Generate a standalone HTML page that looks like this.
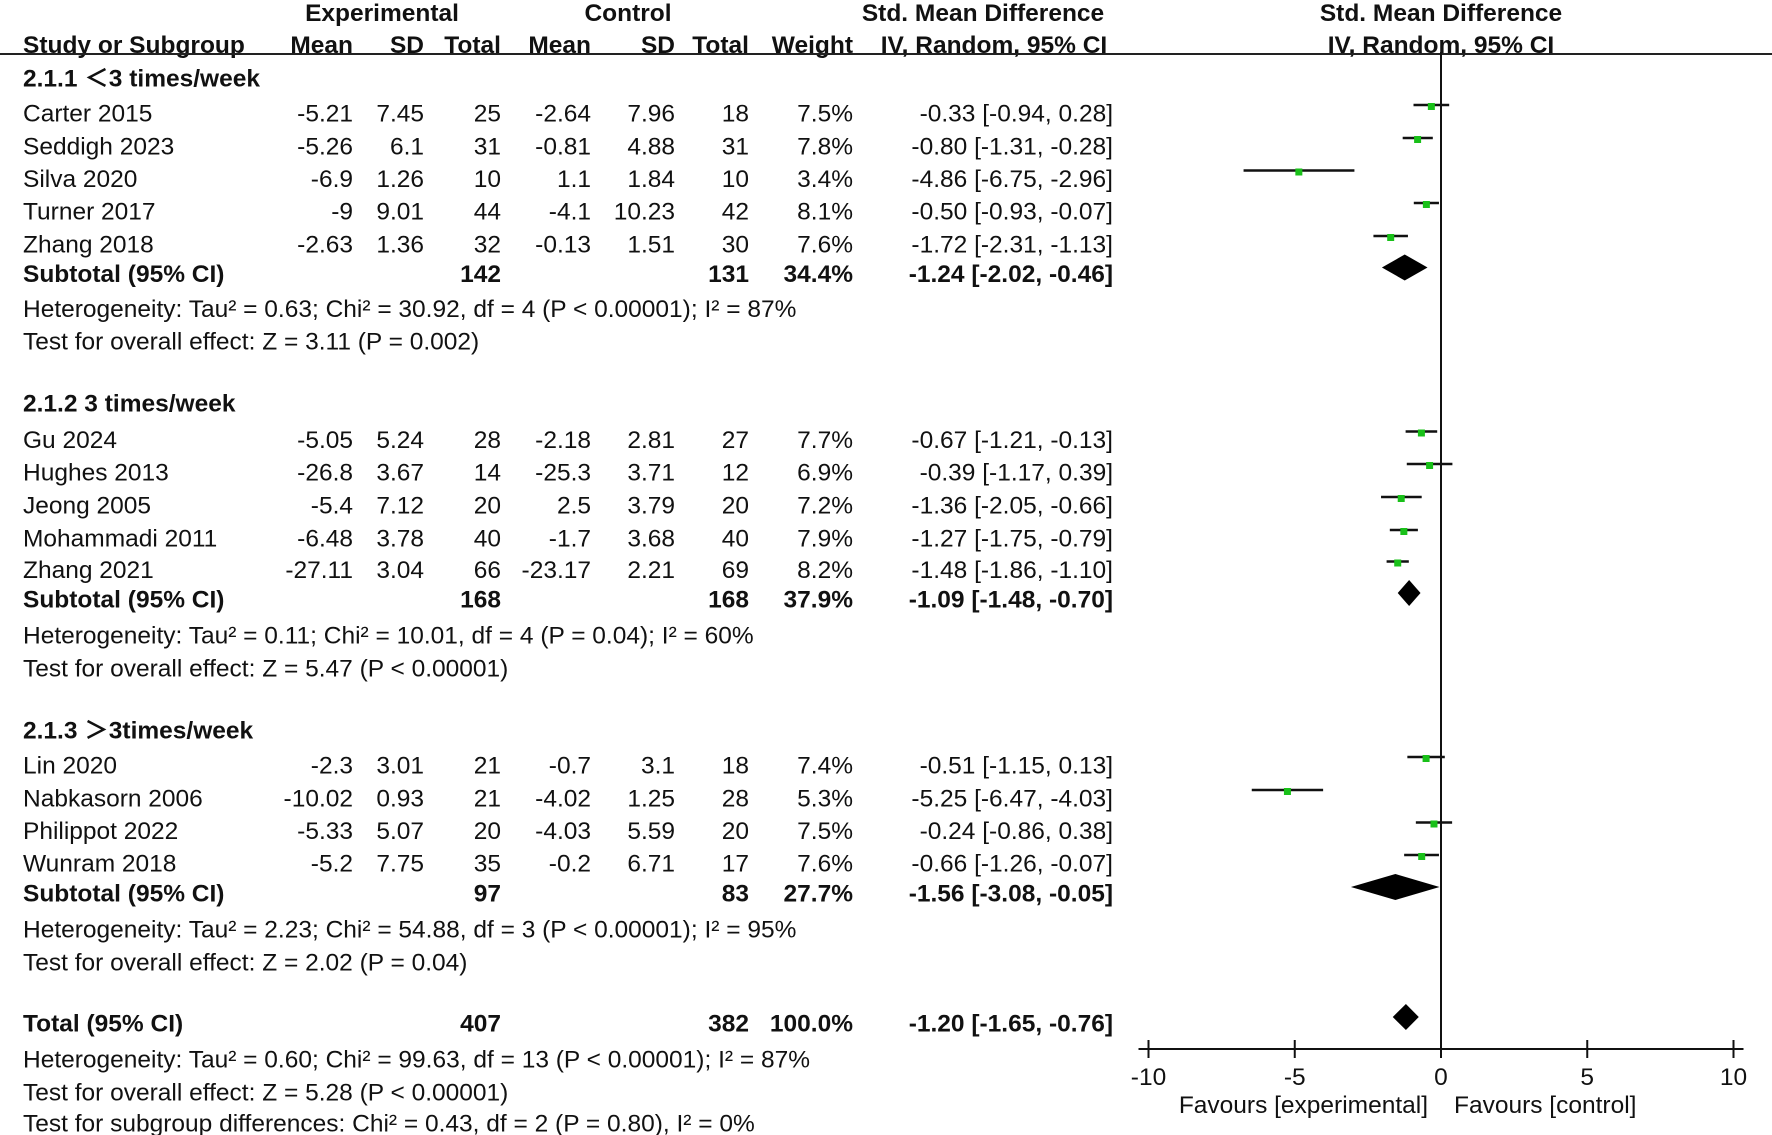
<!DOCTYPE html>
<html><head><meta charset="utf-8"><style>
html,body{margin:0;padding:0;background:#fff}
svg{display:block}
text{font-family:"Liberation Sans","Noto Sans CJK SC",Arial,sans-serif;font-size:24.5px;fill:#111}
.b{font-weight:bold}
</style></head><body>
<svg id="plot" width="1772" height="1135" xmlns="http://www.w3.org/2000/svg">
<g id="txt"></g><g id="marks"></g>
</svg>
<script>
// ---- data ----
const studies = ["Carter 2015","Seddigh 2023","Silva 2020","Turner 2017","Zhang 2018","Gu 2024","Hughes 2013","Jeong 2005","Mohammadi 2011","Zhang 2021","Lin 2020","Nabkasorn 2006","Philippot 2022","Wunram 2018"];
const studyGroup = [0,0,0,0,0,1,1,1,1,1,2,2,2,2];
const expMean = ["-5.21","-5.26","-6.9","-9","-2.63","-5.05","-26.8","-5.4","-6.48","-27.11","-2.3","-10.02","-5.33","-5.2"];
const expSD = ["7.45","6.1","1.26","9.01","1.36","5.24","3.67","7.12","3.78","3.04","3.01","0.93","5.07","7.75"];
const expN = [25,31,10,44,32,28,14,20,40,66,21,21,20,35];
const ctlMean = ["-2.64","-0.81","1.1","-4.1","-0.13","-2.18","-25.3","2.5","-1.7","-23.17","-0.7","-4.02","-4.03","-0.2"];
const ctlSD = ["7.96","4.88","1.84","10.23","1.51","2.81","3.71","3.79","3.68","2.21","3.1","1.25","5.59","6.71"];
const ctlN = [18,31,10,42,30,27,12,20,40,69,18,28,20,17];
const weights = [7.5,7.8,3.4,8.1,7.6,7.7,6.9,7.2,7.9,8.2,7.4,5.3,7.5,7.6];
const smd = [-0.33,-0.80,-4.86,-0.50,-1.72,-0.67,-0.39,-1.36,-1.27,-1.48,-0.51,-5.25,-0.24,-0.66];
const ciLo = [-0.94,-1.31,-6.75,-0.93,-2.31,-1.21,-1.17,-2.05,-1.75,-1.86,-1.15,-6.47,-0.86,-1.26];
const ciHi = [0.28,-0.28,-2.96,-0.07,-1.13,-0.13,0.39,-0.66,-0.79,-1.10,0.13,-4.03,0.38,-0.07];
const groupNames = ["2.1.1 ＜3 times/week","2.1.2 3 times/week","2.1.3 ＞3times/week"];
const subExpN = [142,168,97];
const subCtlN = [131,168,83];
const subWeight = ["34.4%","37.9%","27.7%"];
const subEst = [-1.24,-1.09,-1.56];
const subLo = [-2.02,-1.48,-3.08];
const subHi = [-0.46,-0.70,-0.05];
const subHet = ["Heterogeneity: Tau² = 0.63; Chi² = 30.92, df = 4 (P < 0.00001); I² = 87%","Heterogeneity: Tau² = 0.11; Chi² = 10.01, df = 4 (P = 0.04); I² = 60%","Heterogeneity: Tau² = 2.23; Chi² = 54.88, df = 3 (P < 0.00001); I² = 95%"];
const subTest = ["Test for overall effect: Z = 3.11 (P = 0.002)","Test for overall effect: Z = 5.47 (P < 0.00001)","Test for overall effect: Z = 2.02 (P = 0.04)"];
const totalEst = [-1.20], totalLo = [-1.65], totalHi = [-0.76];
const xTicks = [-10,-5,0,5,10];

// ---- layout ----
const NS="http://www.w3.org/2000/svg";
const T=document.getElementById('txt'), M=document.getElementById('marks');
const x0=1441, ppu=29.25;
const X=v=>x0+v*ppu;
function tx(s,x,y,anchor,bold,name){const e=document.createElementNS(NS,'text');e.setAttribute('x',x);e.setAttribute('y',y);if(anchor)e.setAttribute('text-anchor',anchor);if(bold)e.setAttribute('class','b');e.textContent=s;


T.appendChild(e);return e;}
function el(tag,attrs,name){const e=document.createElementNS(NS,tag);for(const k in attrs)e.setAttribute(k,attrs[k]);


M.appendChild(e);return e;}
const fmt=v=>v.toFixed(2);
const ci=(a,b,c)=>fmt(a)+" ["+fmt(b)+", "+fmt(c)+"]";
const colR={em:353,es:424,en:501,cm:591,cs:675,cn:749,w:853,ci:1113};
// headers
tx("Experimental",382,21,"middle",true,"header-experimental");
tx("Control",628,21,"middle",true,"header-control");
tx("Std. Mean Difference",983,21,"middle",true,"header-smd");
tx("Std. Mean Difference",1441,21,"middle",true,"header-smd-plot");
tx("Study or Subgroup",23,53,null,true,"header-study");
[["Mean",colR.em],["SD",colR.es],["Total",colR.en],["Mean",colR.cm],["SD",colR.cs],["Total",colR.cn],["Weight",colR.w]].forEach(h=>tx(h[0],h[1],53,"end",true,"header-col"));
tx("IV, Random, 95% CI",994,53,"middle",true,"header-ci");
tx("IV, Random, 95% CI",1441,53,"middle",true,"header-ci-plot");
el('line',{x1:0,y1:54,x2:1772,y2:54,stroke:'#222','stroke-width':2},'header-rule');
// rows y (text center)
const groupY=[78,403,730];
const rowY=[113,146,178.5,211,244,439.5,472,505,538,569.5,765,798,830.5,863];
const subY=[273.5,599,893];
const off=8.5;
groupNames.forEach((g,i)=>tx(g,23,groupY[i]+off,null,true,'group-heading'));
studies.forEach((s,i)=>{const y=rowY[i]+off;
 tx(s,23,y,null,false,'study-name');
 tx(expMean[i],colR.em,y,'end',false,'exp-mean');tx(expSD[i],colR.es,y,'end',false,'exp-sd');tx(String(expN[i]),colR.en,y,'end',false,'exp-total');
 tx(ctlMean[i],colR.cm,y,'end',false,'ctl-mean');tx(ctlSD[i],colR.cs,y,'end',false,'ctl-sd');tx(String(ctlN[i]),colR.cn,y,'end',false,'ctl-total');
 tx(weights[i].toFixed(1)+"%",colR.w,y,'end',false,'weight');
 tx(ci(smd[i],ciLo[i],ciHi[i]),colR.ci,y,'end',false,'smd-ci');
 const my=rowY[i]-8;
 el('line',{x1:X(ciLo[i]),x2:X(ciHi[i]),y1:my,y2:my,stroke:'#111','stroke-width':2.5},'ci-whisker');
 el('rect',{x:X(smd[i])-3.5,y:my-2,width:7,height:7,fill:'#19c019'},'point-estimate');
});
function diamond(est,lo,hi,cy,name){el('polygon',{points:`${X(lo)},${cy} ${X(est)},${cy-13} ${X(hi)},${cy} ${X(est)},${cy+13}`,fill:'#000'},name);}
const hetY=[308.5,635,929], testY=[341,668,962];
subY.forEach((y,i)=>{
 tx("Subtotal (95% CI)",23,y+off,null,true,'subtotal-label');
 tx(String(subExpN[i]),colR.en,y+off,'end',true,'subtotal-exp-n');
 tx(String(subCtlN[i]),colR.cn,y+off,'end',true,'subtotal-ctl-n');
 tx(subWeight[i],colR.w,y+off,'end',true,'subtotal-weight');
 tx(ci(subEst[i],subLo[i],subHi[i]),colR.ci,y+off,'end',true,'subtotal-ci');
 diamond(subEst[i],subLo[i],subHi[i],y-6,'subtotal-diamond');
 tx(subHet[i],23,hetY[i]+off,null,false,'heterogeneity');
 tx(subTest[i],23,testY[i]+off,null,false,'overall-effect');
});
tx("Total (95% CI)",23,1023+off,null,true,'total-label');
tx("407",colR.en,1023+off,'end',true,'total-exp-n');
tx("382",colR.cn,1023+off,'end',true,'total-ctl-n');
tx("100.0%",colR.w,1023+off,'end',true,'total-weight');
tx(ci(totalEst[0],totalLo[0],totalHi[0]),colR.ci,1023+off,'end',true,'total-ci');
diamond(totalEst[0],totalLo[0],totalHi[0],1017,'total-diamond');
tx("Heterogeneity: Tau² = 0.60; Chi² = 99.63, df = 13 (P < 0.00001); I² = 87%",23,1059+off,null,false,'total-heterogeneity');
tx("Test for overall effect: Z = 5.28 (P < 0.00001)",23,1092+off,null,false,'total-effect');
tx("Test for subgroup differences: Chi² = 0.43, df = 2 (P = 0.80), I² = 0%",23,1123+off,null,false,'subgroup-differences');
// axis
el('line',{x1:X(0),x2:X(0),y1:52,y2:1049,stroke:'#111','stroke-width':2},'null-line');
el('line',{x1:X(-10)-10,x2:X(10)+10,y1:1049,y2:1049,stroke:'#111','stroke-width':2},'x-axis');
xTicks.forEach(t=>{el('line',{x1:X(t),x2:X(t),y1:1040,y2:1058,stroke:'#111','stroke-width':2},'x-tick');
 tx(String(t),X(t),1085,'middle',false,'x-tick-label');});
tx("Favours [experimental]",X(0)-13,1113,'end',false,'favours-experimental');
tx("Favours [control]",X(0)+13,1113,null,false,'favours-control');
</script>
</body></html>
